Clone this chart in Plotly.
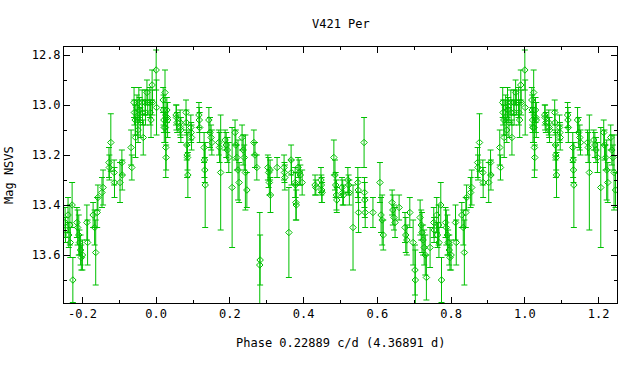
import plotly.graph_objects as go

# Base folded observations (phase in [0,1)), magnitude and 1-sigma error
phase = [
    0.000, 0.001, 0.019, 0.020, 0.021, 0.022, 0.024, 0.025, 0.026, 0.027, 0.029, 0.030, 0.031,
    0.054, 0.055, 0.057, 0.065, 0.066, 0.067, 0.081, 0.082, 0.083, 0.084, 0.085, 0.086,
    0.094, 0.095, 0.096, 0.116, 0.117, 0.118, 0.130, 0.131, 0.132, 0.133,
    0.143, 0.146, 0.149, 0.151, 0.170, 0.172, 0.175, 0.187, 0.190, 0.193, 0.197, 0.206,
    0.214, 0.216, 0.219, 0.222, 0.225, 0.233, 0.236, 0.239, 0.242, 0.246,
    0.265, 0.268, 0.273, 0.281, 0.282,
    0.303, 0.305, 0.307, 0.309, 0.310, 0.328, 0.347, 0.348, 0.349, 0.360, 0.366, 0.367,
    0.377, 0.378, 0.379, 0.380, 0.385, 0.388, 0.391, 0.396,
    0.431, 0.433, 0.447, 0.448, 0.449, 0.450, 0.482, 0.485, 0.487, 0.489, 0.490,
    0.504, 0.506, 0.508, 0.520, 0.522, 0.524, 0.534, 0.547, 0.548, 0.549,
    0.564, 0.565, 0.566, 0.567, 0.588, 0.607, 0.610, 0.613, 0.616,
    0.640, 0.642, 0.645, 0.648, 0.659, 0.675, 0.677, 0.680, 0.688, 0.697, 0.702, 0.703,
    0.716, 0.719, 0.721, 0.724, 0.727, 0.730, 0.733, 0.743,
    0.753, 0.754, 0.761, 0.763, 0.766, 0.767, 0.772, 0.774,
    0.785, 0.787, 0.790, 0.792, 0.795, 0.797, 0.800, 0.812, 0.814,
    0.829, 0.833, 0.836, 0.840, 0.842, 0.853, 0.856,
    0.872, 0.873, 0.877, 0.886, 0.887, 0.902, 0.907, 0.908, 0.932, 0.934,
    0.940, 0.941, 0.943, 0.944, 0.948, 0.949, 0.951, 0.953, 0.955, 0.957,
    0.962, 0.963, 0.965, 0.970, 0.971, 0.975, 0.977, 0.983, 0.984, 0.986, 0.989, 0.990,
]
mag = [
    12.86, 13.01, 12.98, 13.02, 13.06, 13.09, 12.95, 13.09, 13.17, 13.21, 13.02, 13.05, 13.06,
    13.04, 13.05, 13.07, 13.07, 13.09, 13.10, 13.03, 13.07, 13.16, 13.20, 13.21, 13.28,
    13.09, 13.11, 13.13, 13.04, 13.06, 13.09, 13.17, 13.22, 13.26, 13.32,
    13.06, 13.11, 13.13, 13.15, 13.15, 13.17, 13.27, 13.14, 13.16, 13.18, 13.21, 13.33,
    13.11, 13.16, 13.21, 13.26, 13.31, 13.13, 13.18, 13.21, 13.27, 13.34,
    13.15, 13.20, 13.25, 13.64, 13.62,
    13.25, 13.27, 13.31, 13.26, 13.36, 13.25, 13.25, 13.27, 13.29, 13.51, 13.22, 13.27,
    13.31, 13.32, 13.39, 13.40, 13.25, 13.27, 13.28, 13.31,
    13.32, 13.33, 13.30, 13.32, 13.34, 13.35, 13.21, 13.28, 13.32, 13.36, 13.38,
    13.33, 13.35, 13.36, 13.30, 13.32, 13.35, 13.49, 13.31, 13.34, 13.43,
    13.15, 13.35, 13.38, 13.43, 13.43, 13.31, 13.44, 13.46, 13.52,
    13.39, 13.42, 13.45, 13.47, 13.41, 13.49, 13.52, 13.54, 13.43, 13.55, 13.66, 13.70,
    13.45, 13.48, 13.51, 13.54, 13.57, 13.60, 13.69, 13.57,
    13.47, 13.50, 13.44, 13.52, 13.48, 13.55, 13.40, 13.70,
    13.47, 13.49, 13.52, 13.55, 13.58, 13.61, 13.60, 13.47, 13.55,
    13.44, 13.49, 13.59, 13.43, 13.37, 13.35, 13.33,
    13.23, 13.25, 13.15, 13.27, 13.31, 13.31, 13.23, 13.28, 13.17, 13.25,
    12.99, 13.03, 13.06, 13.13, 13.01, 13.05, 13.10, 12.99, 13.02, 13.07,
    12.99, 13.03, 13.13, 12.99, 13.03, 12.95, 12.99, 12.99, 13.03, 13.06, 12.92, 12.99,
]
err = [
    0.08, 0.11, 0.05, 0.06, 0.05, 0.06, 0.09, 0.06, 0.12, 0.05, 0.05, 0.06, 0.07,
    0.04, 0.05, 0.04, 0.05, 0.04, 0.05, 0.05, 0.05, 0.06, 0.09, 0.05, 0.09,
    0.05, 0.04, 0.05, 0.05, 0.05, 0.06, 0.06, 0.07, 0.05, 0.17,
    0.05, 0.06, 0.05, 0.05, 0.05, 0.06, 0.23, 0.04, 0.05, 0.05, 0.06, 0.24,
    0.05, 0.06, 0.05, 0.12, 0.08, 0.05, 0.06, 0.05, 0.15, 0.07,
    0.05, 0.05, 0.05, 0.21, 0.10,
    0.05, 0.06, 0.05, 0.04, 0.07, 0.04, 0.05, 0.04, 0.05, 0.18, 0.06, 0.05,
    0.06, 0.05, 0.07, 0.06, 0.04, 0.05, 0.04, 0.05,
    0.04, 0.03, 0.05, 0.04, 0.05, 0.04, 0.07, 0.06, 0.05, 0.06, 0.05,
    0.04, 0.05, 0.04, 0.05, 0.04, 0.05, 0.17, 0.06, 0.05, 0.08,
    0.10, 0.06, 0.07, 0.06, 0.06, 0.08, 0.07, 0.10, 0.06,
    0.05, 0.06, 0.05, 0.06, 0.05, 0.06, 0.07, 0.06, 0.06, 0.09, 0.10, 0.12,
    0.07, 0.06, 0.08, 0.06, 0.07, 0.08, 0.09, 0.08,
    0.06, 0.05, 0.07, 0.05, 0.08, 0.06, 0.09, 0.09,
    0.06, 0.07, 0.08, 0.05, 0.06, 0.05, 0.06, 0.07, 0.09,
    0.05, 0.07, 0.13, 0.06, 0.05, 0.06, 0.07,
    0.06, 0.05, 0.115, 0.05, 0.06, 0.08, 0.05, 0.06, 0.07, 0.05,
    0.06, 0.05, 0.06, 0.08, 0.05, 0.07, 0.05, 0.06, 0.05, 0.06,
    0.05, 0.05, 0.07, 0.05, 0.05, 0.05, 0.05, 0.06, 0.05, 0.07, 0.06, 0.05,
]

x_ticks = [-0.2, 0.0, 0.2, 0.4, 0.6, 0.8, 1.0, 1.2]
x_tick_text = ["-0.2", "0.0", "0.2", "0.4", "0.6", "0.8", "1.0", "1.2"]
y_ticks = [12.8, 13.0, 13.2, 13.4, 13.6]
y_tick_text = ["12.8", "13.0", "13.2", "13.4", "13.6"]

title_text = "V421 Per"
x_title = "Phase 0.22889 c/d (4.36891 d)"
y_title = "Mag NSVS"

# Phase plot shows -0.25..1.25: repeat the edge observations one cycle over
px, py, pe = [], [], []
for p, m, e in zip(phase, mag, err):
    px.append(p); py.append(m); pe.append(e)
    if p >= 0.75:
        px.append(p - 1); py.append(m); pe.append(e)
    if p < 0.25:
        px.append(p + 1); py.append(m); pe.append(e)

GREEN = "#00c000"
FONT = "DejaVu Sans Mono"

fig = go.Figure()
fig.add_trace(go.Scatter(
    x=px, y=py, mode="markers",
    marker=dict(symbol="diamond-open", size=5, color=GREEN, line=dict(width=1, color=GREEN)),
    error_y=dict(type="data", array=pe, visible=True, color=GREEN, thickness=1, width=3),
    showlegend=False, hoverinfo="x+y",
))

axis_common = dict(
    showgrid=False, zeroline=False, showline=True, linecolor="black", linewidth=1,
    mirror="allticks", ticks="inside", ticklen=6, tickcolor="black", tickwidth=1,
    tickfont=dict(family=FONT, size=12, color="black"),
)
fig.update_xaxes(range=[-0.25, 1.25], tickmode="array", tickvals=x_ticks, ticktext=x_tick_text,
                 minor=dict(tickmode="linear", tick0=0, dtick=0.1, ticks="inside", ticklen=3,
                            tickcolor="black"),
                 **axis_common)
fig.update_yaxes(range=[13.792, 12.768], tickmode="array", tickvals=y_ticks, ticktext=y_tick_text,
                 minor=dict(tickmode="linear", tick0=12.8, dtick=0.1, ticks="inside", ticklen=3,
                            tickcolor="black"),
                 **axis_common)

fig.update_layout(
    width=640, height=384,
    margin=dict(l=64, r=23, t=47, b=81, pad=0),
    paper_bgcolor="white", plot_bgcolor="white",
    font=dict(family=FONT, size=12, color="black"),
    annotations=[
        dict(text=title_text, xref="paper", yref="paper", x=0.5, y=1 + 23 / 256,
             showarrow=False, xanchor="center", yanchor="middle", font=dict(size=12)),
        dict(text=x_title, xref="paper", yref="paper", x=0.5, y=-40 / 256,
             showarrow=False, xanchor="center", yanchor="middle", font=dict(size=12)),
        dict(text=y_title, xref="paper", yref="paper", x=-55 / 553, y=0.5, textangle=-90,
             showarrow=False, xanchor="center", yanchor="middle", font=dict(size=12)),
    ],
)

# remove the default 8px page margin so the figure sits at the window's corner
fig.write_html("out.html", config={"displayModeBar": False},
               post_script="document.body.style.margin='0px';")
